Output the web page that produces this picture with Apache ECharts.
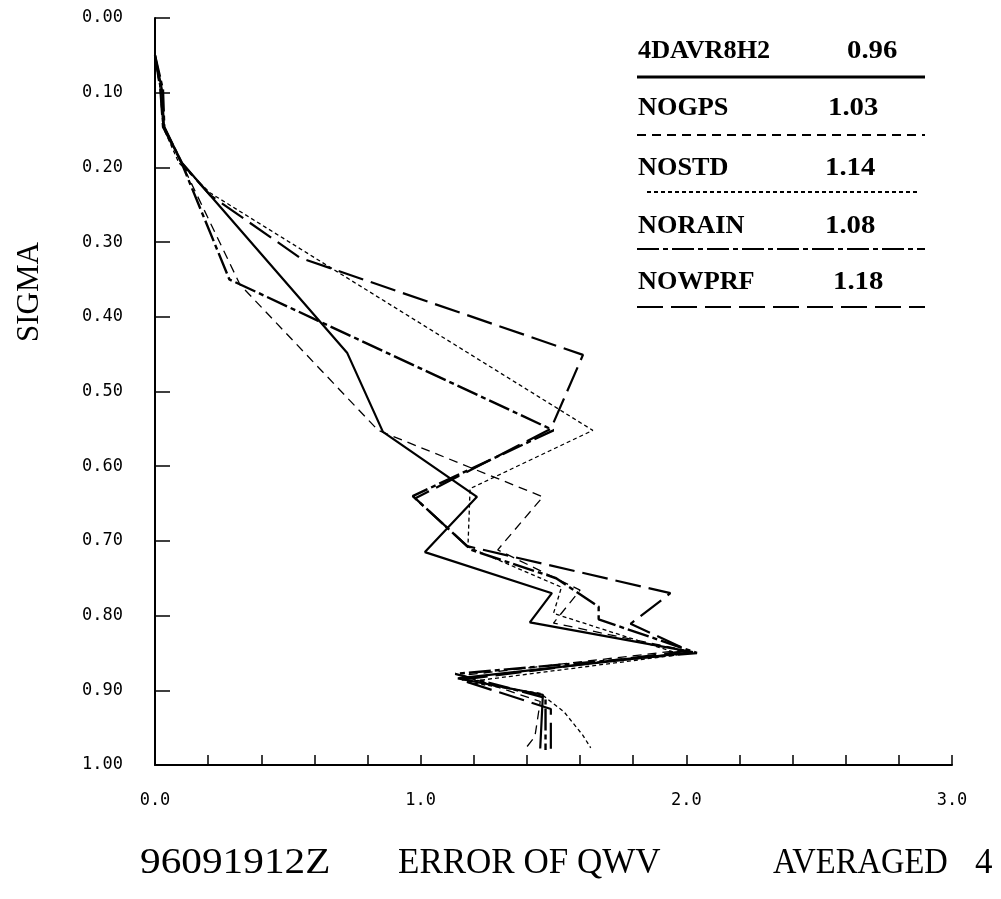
<!DOCTYPE html>
<html><head><meta charset="utf-8">
<script src="https://cdn.jsdelivr.net/npm/echarts/dist/echarts.min.js"></script>
<style>html,body{margin:0;padding:0;background:#fff}#c{width:1001px;height:899px}</style>
</head><body><div id="c"></div>
<script>
// ---- data ----
const seriesNames = ['4DAVR8H2', 'NOGPS', 'NOSTD', 'NORAIN', 'NOWPRF'];
const legendValues = ['0.96', '1.03', '1.14', '1.08', '1.18'];

const sigma_4DAVR8H2 = [0.050, 0.096, 0.146, 0.194, 0.448, 0.554, 0.641, 0.715, 0.770, 0.809, 0.849, 0.884, 0.906, 0.978];
const err_4DAVR8H2   = [0.00, 0.026, 0.034, 0.102, 0.723, 0.858, 1.212, 1.016, 1.494, 1.411, 2.025, 1.14, 1.46, 1.45];

const sigma_NOGPS = [0.050, 0.096, 0.146, 0.194, 0.357, 0.552, 0.641, 0.712, 0.766, 0.810, 0.846, 0.880, 0.915, 0.962, 0.980];
const err_NOGPS   = [0.00, 0.02, 0.03, 0.10, 0.32, 0.84, 1.46, 1.29, 1.60, 1.50, 1.99, 1.16, 1.45, 1.43, 1.39];

const sigma_NOSTD = [0.050, 0.096, 0.146, 0.194, 0.234, 0.552, 0.630, 0.708, 0.762, 0.797, 0.852, 0.889, 0.904, 0.929, 0.960, 0.977];
const err_NOSTD   = [0.00, 0.02, 0.03, 0.09, 0.207, 1.648, 1.186, 1.178, 1.53, 1.50, 1.98, 1.17, 1.45, 1.54, 1.61, 1.64];

const sigma_NORAIN = [0.050, 0.096, 0.146, 0.194, 0.350, 0.552, 0.640, 0.712, 0.750, 0.788, 0.805, 0.850, 0.878, 0.910, 0.980];
const err_NORAIN   = [0.00, 0.03, 0.035, 0.10, 0.28, 1.50, 0.97, 1.19, 1.51, 1.67, 1.67, 2.04, 1.13, 1.47, 1.47];

const sigma_NOWPRF = [0.050, 0.096, 0.146, 0.194, 0.237, 0.321, 0.451, 0.550, 0.643, 0.707, 0.770, 0.811, 0.847, 0.886, 0.925, 0.980];
const err_NOWPRF   = [0.00, 0.02, 0.03, 0.10, 0.207, 0.546, 1.611, 1.49, 0.98, 1.175, 1.94, 1.79, 2.01, 1.15, 1.49, 1.49];

const xTickLabels = ['0.0', '1.0', '2.0', '3.0'];
const bottomTitle = ['96091912Z', 'ERROR OF QWV', 'AVERAGED', '4'];

// ---- styles ----
const styles = [
  {type: 'solid', width: 2.2},
  {type: [9, 6], width: 1.3},
  {type: [4, 3], width: 1.3},
  {type: [22, 4, 5, 4], width: 2.4},
  {type: [26, 8], width: 2.2}
];
const dataSets = [
  [err_4DAVR8H2, sigma_4DAVR8H2],
  [err_NOGPS, sigma_NOGPS],
  [err_NOSTD, sigma_NOSTD],
  [err_NORAIN, sigma_NORAIN],
  [err_NOWPRF, sigma_NOWPRF]
];

const chart = echarts.init(document.getElementById('c'), null, {renderer: 'canvas'});

const series = seriesNames.map((n, i) => ({
  name: n,
  type: 'line',
  showSymbol: false,
  symbol: 'none',
  silent: true,
  lineStyle: {color: '#000', width: styles[i].width, type: styles[i].type},
  data: dataSets[i][0].map((x, k) => [x, dataSets[i][1][k]])
}));

// legend table
const gfx = [];
const rowY = [54, 111, 171, 229, 285];
const lineY = [77, 135, 192, 249, 307];
const valX = [847, 828, 825, 825, 833];
const lineX0 = [637, 637, 647, 637, 637];
const lineX1 = [925, 925, 917, 925, 925];
seriesNames.forEach((n, i) => {
  gfx.push({
    type: 'text', x: 638, y: rowY[i] - 15, scaleX: 1.05,
    style: {text: n, font: 'bold 25px "Liberation Serif", serif', fill: '#000'}
  });
  gfx.push({
    type: 'text', x: valX[i], y: rowY[i] - 15, scaleX: 1.15,
    style: {text: legendValues[i], font: 'bold 25px "Liberation Serif", serif', fill: '#000'}
  });
  gfx.push({
    type: 'line',
    shape: {x1: lineX0[i], y1: lineY[i], x2: lineX1[i], y2: lineY[i]},
    style: {stroke: '#000', lineWidth: i === 0 ? 3 : 2, lineDash: styles[i].type === 'solid' ? null : styles[i].type}
  });
});

// titles
const titleX = [140, 398, 773, 975];
const titleScale = [1.18, 1.0, 0.93, 1.0];
bottomTitle.forEach((t, i) => {
  gfx.push({
    type: 'text', x: titleX[i], y: 846, scaleX: titleScale[i],
    style: {text: t, font: '35px "Liberation Serif", serif', fill: '#000'}
  });
});
gfx.push({
  type: 'text', x: 14, y: 342, rotation: Math.PI / 2,
  style: {text: 'SIGMA', font: '31px "Liberation Serif", serif', fill: '#000'}
});

chart.setOption({
  animation: false,
  backgroundColor: '#fff',
  grid: {left: 155, top: 18, width: 797, height: 747, containLabel: false},
  xAxis: {
    type: 'value', min: 0, max: 3, interval: 0.2, position: 'bottom',
    axisLine: {show: true, onZero: false, lineStyle: {color: '#000', width: 2}},
    axisTick: {show: true, inside: true, length: 10, lineStyle: {color: '#000', width: 1.5}},
    splitLine: {show: false},
    axisLabel: {
      margin: 27, color: '#000', fontFamily: '"DejaVu Sans Mono", monospace', fontSize: 17,
      formatter: v => {
        const r = Math.round(v);
        return Math.abs(v - r) < 1e-6 ? xTickLabels[r] : '';
      }
    }
  },
  yAxis: {
    type: 'value', min: 0, max: 1, interval: 0.1, inverse: true, position: 'left',
    axisLine: {show: true, onZero: false, lineStyle: {color: '#000', width: 2}},
    axisTick: {show: true, inside: true, length: 15, lineStyle: {color: '#000', width: 1.5}},
    splitLine: {show: false},
    axisLabel: {
      margin: 32, color: '#000', fontFamily: '"DejaVu Sans Mono", monospace', fontSize: 17,
      formatter: v => v.toFixed(2)
    }
  },
  graphic: gfx,
  series: series
});
</script></body></html>
